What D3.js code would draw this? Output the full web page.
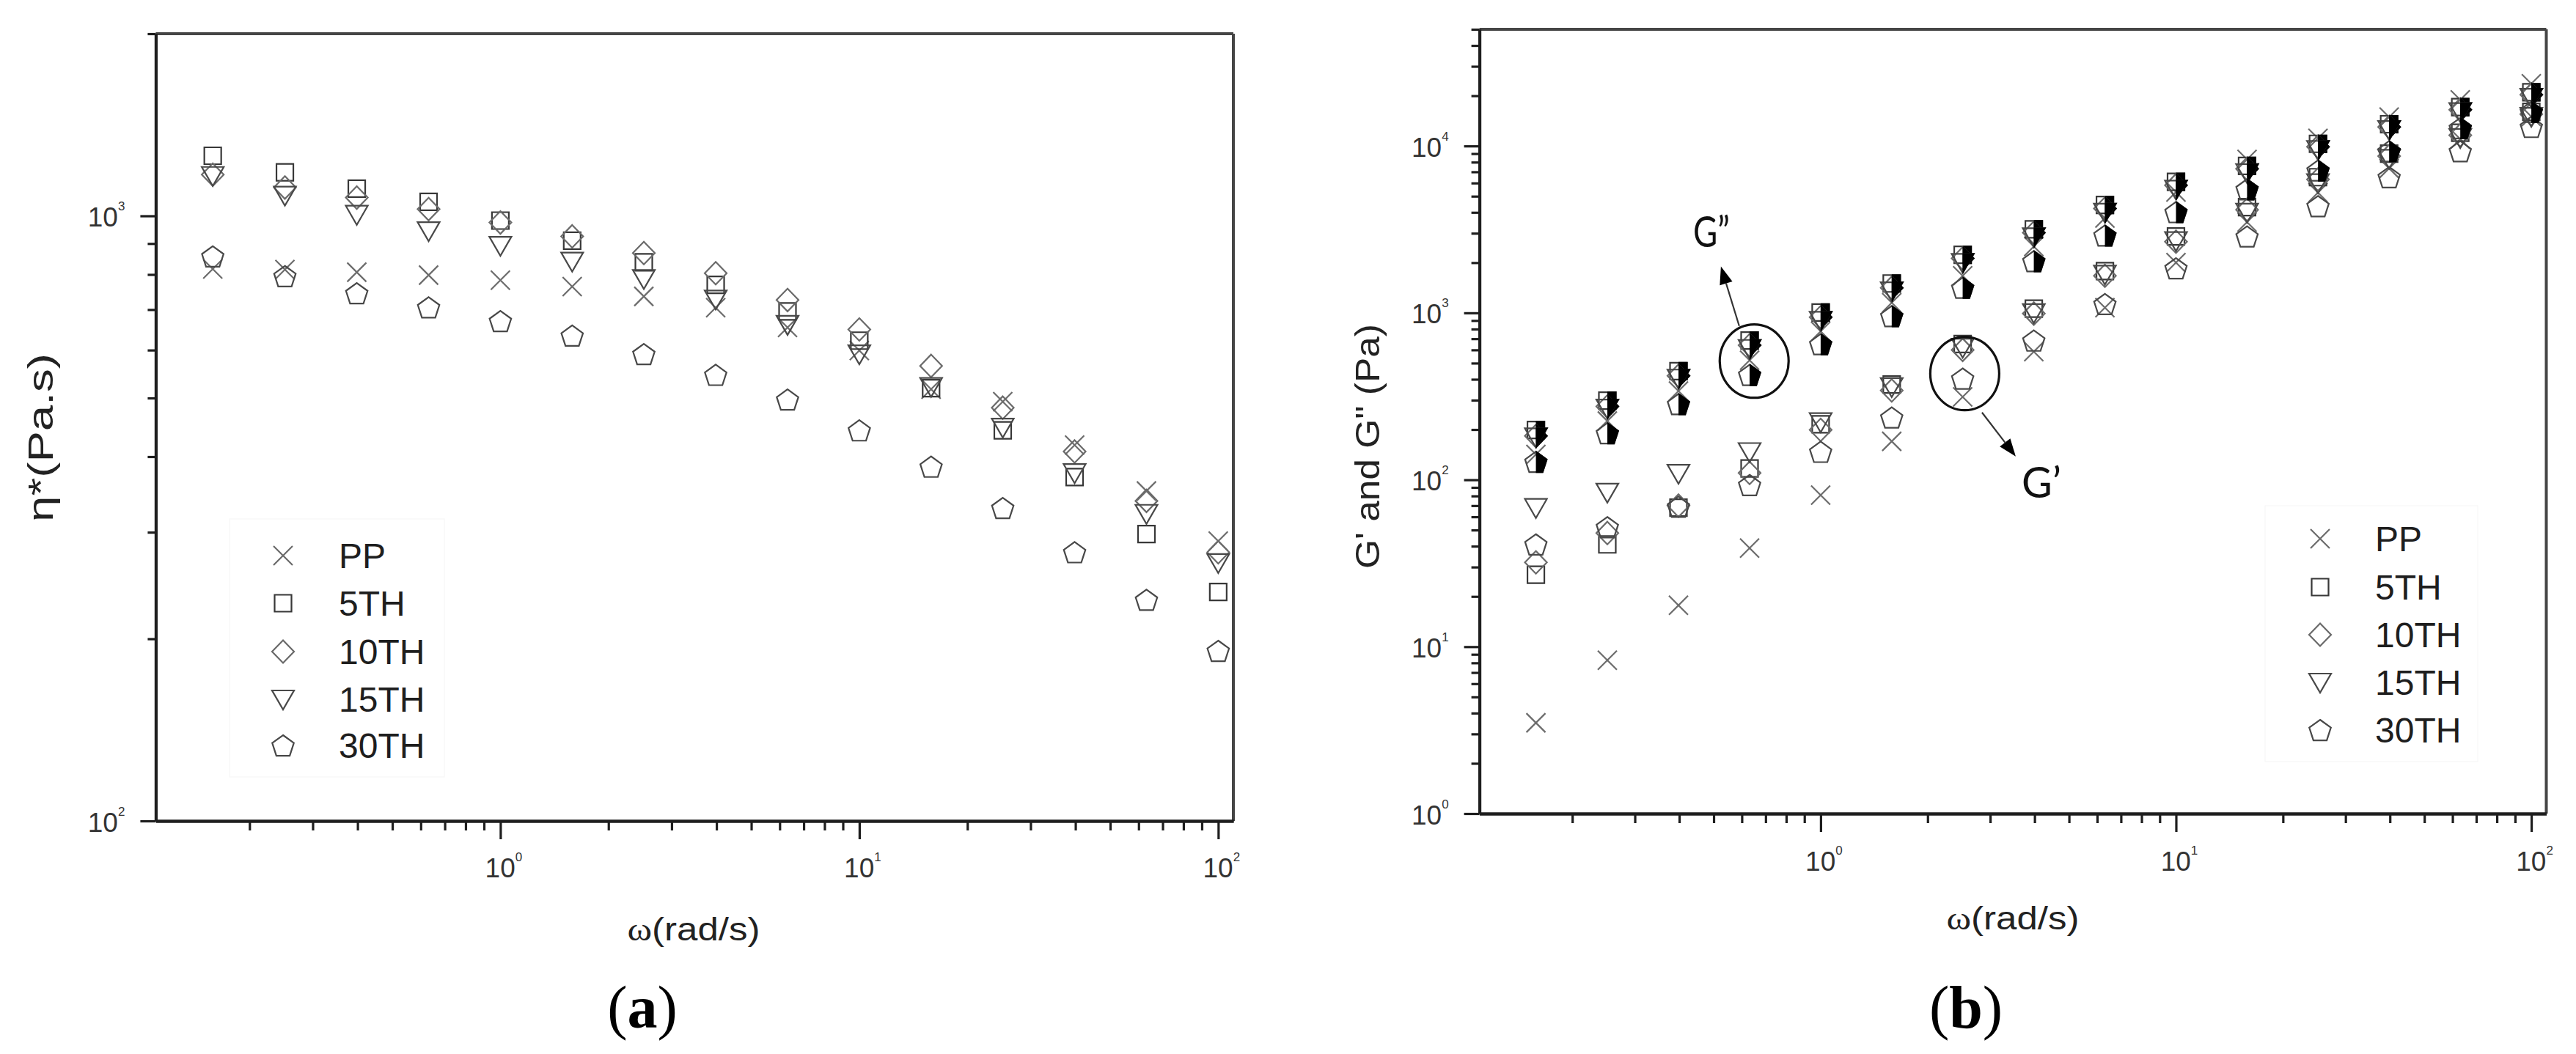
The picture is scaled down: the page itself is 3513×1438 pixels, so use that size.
<!DOCTYPE html>
<html><head><meta charset="utf-8">
<script src="https://cdn.jsdelivr.net/npm/d3@7"></script>
<style>body{margin:0;background:#fff}svg{display:block}</style>
</head><body>
<svg id="chart" width="3513" height="1438"></svg>
<script>
// ---------------- DATA ----------------
const omega = [0.158, 0.251, 0.398, 0.631, 1.0, 1.585, 2.51, 3.98, 6.31, 10.0, 15.85, 25.1, 39.8, 63.1, 100];
const seriesNames = ["PP", "5TH", "10TH", "15TH", "30TH"];

// panel (a): complex viscosity eta* (Pa.s)
const etaPP   = [817, 815, 807, 798, 783, 764, 736, 705, 654, 599, 517, 493, 418, 351, 290];
const eta5TH  = [1257, 1180, 1109, 1055, 982, 910, 838, 769, 695, 622, 519, 442, 370, 298, 239];
const eta10TH = [1170, 1114, 1072, 1026, 975, 925, 868, 804, 726, 649, 565, 482, 408, 338, 278];
const eta15TH = [1165, 1081, 1005, 944, 893, 841, 787, 728, 661, 591, 522, 447, 376, 322, 267];
const eta30TH = [857, 795, 745, 706, 670, 634, 591, 546, 497, 442, 385, 329, 278, 232, 191];

// panel (b): storage modulus G' (Pa)
const gpPP   = [3.5, 8.3, 17.7, 39, 81, 170, 314, 586, 1075, 2000, 3500, 5260, 7350, 11000, 15000];
const gp5TH  = [27, 41, 68, 117, 215, 372, 650, 1060, 1780, 2870, 4300, 6500, 9000, 12000, 16000];
const gp10TH = [32, 48, 70, 110, 199, 343, 600, 990, 1670, 2670, 4150, 6300, 8700, 11600, 15500];
const gp15TH = [68, 84, 109, 147, 222, 360, 620, 1000, 1700, 2700, 4000, 6000, 8400, 11200, 15000];
const gp30TH = [41, 52, 69, 93, 147, 236, 404, 682, 1130, 1850, 2870, 4360, 6500, 9300, 13000];

// panel (b): loss modulus G'' (Pa)
const gppPP   = [142, 225, 340, 520, 775, 1150, 1670, 2500, 3700, 5300, 8300, 11100, 14900, 18900, 23600];
const gpp5TH  = [199, 298, 448, 682, 1005, 1500, 2230, 3170, 4430, 6100, 7600, 10300, 13500, 17100, 21000];
const gpp10TH = [183, 275, 420, 640, 942, 1413, 2120, 3020, 4220, 5820, 7300, 9900, 13000, 16500, 20300];
const gpp15TH = [180, 268, 405, 610, 900, 1350, 2000, 2850, 4000, 5500, 6900, 9500, 12500, 16000, 19500];
const gpp30TH = [128, 190, 284, 425, 649, 955, 1413, 2040, 2909, 4012, 5500, 7130, 9300, 12800, 16000];

// axis ticks
const xMajorTicks = [1, 10, 100];
const xMinorTicks = [0.2,0.3,0.4,0.5,0.6,0.7,0.8,0.9, 2,3,4,5,6,7,8,9, 20,30,40,50,60,70,80,90];
const yMajorTicksA = [100, 1000];
const yMinorTicksA = [200,300,400,500,600,700,800,900,2000];
const yMajorTicksB = [1, 10, 100, 1000, 10000];
const yMinorTicksB = [2,3,4,5,6,7,8,9, 20,30,40,50,60,70,80,90, 200,300,400,500,600,700,800,900,
                      2000,3000,4000,5000,6000,7000,8000,9000, 20000,30000,40000,50000];

// annotations (data units)
const annoGpp = {label: "G\u201D", ellW: 0.650, ellV: 514, fromW: 0.590, fromV: 835, toW: 0.524, toV: 1896, textW: 0.4375, textV: 2490};
const annoGp  = {label: "G\u2019", ellW: 2.544, ellV: 433, fromW: 2.845, fromV: 253, toW: 3.54, toV: 138, textW: 3.678, textV: 78.3};

// ---------------- DRAWING ----------------
const svg = d3.select("#chart");
const defs = svg.append("defs");
defs.append("clipPath").attr("id", "rightHalf").attr("clipPathUnits", "userSpaceOnUse")
  .append("rect").attr("x", 0).attr("y", -30).attr("width", 30).attr("height", 60);

const strokeCols = ["#6c6c6c", "#383838", "#6a6a6a", "#484848", "#484848"];

function markerPath(k) {
  switch (k) {
    case 0: return "M-13,-13L13,13M-13,13L13,-13";
    case 1: return "M-11.5,-11.5H11.5V11.5H-11.5Z";
    case 2: return "M0,-15.5L15,0L0,15.5L-15,0Z";
    case 3: return "M-15,-12H15L0,14Z";
    default: {
      const r = 15.5, pts = [];
      for (let i = 0; i < 5; i++) {
        const a = (-90 + 72 * i) * Math.PI / 180;
        pts.push([r * Math.cos(a), r * Math.sin(a) + 1.5]);
      }
      return "M" + pts.map(p => p[0].toFixed(2) + "," + p[1].toFixed(2)).join("L") + "Z";
    }
  }
}

const xDomain = [0.1096, 110.2];
const panelA = {left: 212.4, right: 1682, top: 46, bottom: 1120, yDomain: [100, 2000]};
const panelB = {left: 2017.6, right: 3472.5, top: 40, bottom: 1110, yDomain: [1, 50000]};

function setupPanel(p, yMajor, yMinor, xLabelBase) {
  p.x = d3.scaleLog().domain(xDomain).range([p.left, p.right]);
  p.y = d3.scaleLog().domain(p.yDomain).range([p.bottom, p.top]);
  const g = svg.append("g");
  g.append("line").attr("x1", p.left).attr("x2", p.right).attr("y1", p.top).attr("y2", p.top)
    .attr("stroke", "#454545").attr("stroke-width", 4);
  g.append("line").attr("x1", p.right).attr("x2", p.right).attr("y1", p.top).attr("y2", p.bottom)
    .attr("stroke", "#454545").attr("stroke-width", 4);

  const gx = g.append("g").attr("transform", `translate(0,${p.bottom})`);
  gx.append("g").call(d3.axisBottom(p.x).tickValues(xMinorTicks).tickSize(13).tickSizeOuter(0).tickFormat(""));
  const gxm = gx.append("g").call(d3.axisBottom(p.x).tickValues(xMajorTicks).tickSize(25).tickSizeOuter(0).tickFormat(() => "10"));
  gxm.selectAll(".tick text").attr("y", xLabelBase).attr("dy", 0).attr("dx", 4)
    .append("tspan").attr("dy", -22).attr("font-size", 17).text(d => Math.round(Math.log10(d)));

  const gy = g.append("g").attr("transform", `translate(${p.left},0)`);
  gy.append("g").call(d3.axisLeft(p.y).tickValues(yMinor).tickSize(11).tickSizeOuter(0).tickFormat(""));
  const gym = gy.append("g").call(d3.axisLeft(p.y).tickValues(yMajor).tickSize(21).tickSizeOuter(0).tickFormat(() => "10"));
  gym.selectAll(".tick text").attr("x", -42).attr("dy", 0).attr("y", 14)
    .append("tspan").attr("dy", -22).attr("font-size", 17).text(d => Math.round(Math.log10(d)));

  g.selectAll(".domain").attr("stroke", "#1e1e1e").attr("stroke-width", 4);
  g.selectAll(".tick line").attr("stroke", "#1e1e1e").attr("stroke-width", 3.2);
  g.selectAll(".tick text").attr("font-family", "'Liberation Sans', Arial, sans-serif")
    .attr("font-size", 37).attr("fill", "#333");
  return g;
}

setupPanel(panelA, yMajorTicksA, yMinorTicksA, 77);
setupPanel(panelB, yMajorTicksB, yMinorTicksB, 78);

function drawSeries(p, values, k, halfFilled) {
  const pts = omega.map((w, j) => ({w, v: values[j]}));
  const grp = svg.append("g");
  const sel = grp.selectAll("g.pt").data(pts).join("g").attr("class", "pt")
    .attr("transform", d => `translate(${p.x(d.w)},${p.y(d.v)})`);
  sel.append("path").attr("d", markerPath(k)).attr("fill", "none")
    .attr("stroke", strokeCols[k]).attr("stroke-width", 2.2);
  if (halfFilled && k !== 0) {
    sel.append("path").attr("d", markerPath(k)).attr("fill", "#000").attr("stroke", "#000")
      .attr("stroke-width", 2.2).attr("clip-path", "url(#rightHalf)");
  }
}

[etaPP, eta5TH, eta10TH, eta15TH, eta30TH].forEach((arr, k) => drawSeries(panelA, arr, k, false));
[gpPP, gp5TH, gp10TH, gp15TH, gp30TH].forEach((arr, k) => drawSeries(panelB, arr, k, false));
[gppPP, gpp5TH, gpp10TH, gpp15TH, gpp30TH].forEach((arr, k) => drawSeries(panelB, arr, k, true));

function drawLegend(box, symX, txtX, rowY) {
  const g = svg.append("g");
  g.append("rect").attr("x", box[0]).attr("y", box[1]).attr("width", box[2]).attr("height", box[3])
    .attr("fill", "none").attr("stroke", "#f7f7f7").attr("stroke-width", 1.2);
  seriesNames.forEach((name, k) => {
    g.append("path").attr("transform", `translate(${symX},${rowY[k]})`).attr("d", markerPath(k))
      .attr("fill", "none").attr("stroke", strokeCols[k]).attr("stroke-width", 2.2);
    g.append("text").attr("x", txtX).attr("y", rowY[k] + 17).text(name)
      .attr("font-family", "'Liberation Sans', Arial, sans-serif").attr("font-size", 48).attr("fill", "#1e1e1e");
  });
}
drawLegend([313, 708, 293, 352], 386, 462, [758, 823, 889, 954, 1017]);
drawLegend([3089, 690, 290, 349], 3164, 3239, [735, 801, 866, 931, 996]);

const sans = "'Liberation Sans', Arial, sans-serif";
function xTitle(cx, base) {
  const t = svg.append("text").attr("x", cx).attr("y", base).attr("text-anchor", "middle")
    .attr("font-family", sans).attr("font-size", 44).attr("fill", "#222")
    .attr("textLength", 181).attr("lengthAdjust", "spacingAndGlyphs");
  t.append("tspan").attr("font-family", "'Liberation Serif', serif").text("\u03C9");
  t.append("tspan").text("(rad/s)");
}
xTitle(946, 1283);
xTitle(2745, 1268);

svg.append("text").attr("transform", "translate(72,597) rotate(-90)").attr("text-anchor", "middle")
  .attr("font-family", sans).attr("font-size", 48).attr("fill", "#222")
  .attr("textLength", 230).attr("lengthAdjust", "spacingAndGlyphs").text("\u03B7*(Pa.s)");
svg.append("text").attr("transform", "translate(1881,609) rotate(-90)").attr("text-anchor", "middle")
  .attr("font-family", sans).attr("font-size", 46).attr("fill", "#222")
  .attr("textLength", 334).attr("lengthAdjust", "spacingAndGlyphs").text("G' and G\" (Pa)");

function panelLetter(cx, letter) {
  const t = svg.append("text").attr("x", cx).attr("y", 1402).attr("text-anchor", "middle")
    .attr("font-family", "'Liberation Serif', 'Times New Roman', serif").attr("font-size", 82).attr("fill", "#000");
  t.append("tspan").text("(");
  t.append("tspan").attr("font-weight", "bold").text(letter);
  t.append("tspan").text(")");
}
panelLetter(876, "a");
panelLetter(2681, "b");

function annotate(a, textLen) {
  const p = panelB;
  const g = svg.append("g");
  g.append("ellipse").attr("cx", p.x(a.ellW)).attr("cy", p.y(a.ellV)).attr("rx", 47).attr("ry", 50)
    .attr("fill", "none").attr("stroke", "#111").attr("stroke-width", 3.2);
  const x1 = p.x(a.fromW), y1 = p.y(a.fromV), x2 = p.x(a.toW), y2 = p.y(a.toV);
  const ang = Math.atan2(y2 - y1, x2 - x1);
  const L = 24, Wd = 9;
  const bx = x2 - L * Math.cos(ang), by = y2 - L * Math.sin(ang);
  g.append("line").attr("x1", x1).attr("y1", y1).attr("x2", bx).attr("y2", by)
    .attr("stroke", "#333").attr("stroke-width", 2.2);
  g.append("path").attr("d", `M${x2},${y2}L${bx - Wd * Math.sin(ang)},${by + Wd * Math.cos(ang)}L${bx + Wd * Math.sin(ang)},${by - Wd * Math.cos(ang)}Z`)
    .attr("fill", "#000");
  g.append("text").attr("x", p.x(a.textW)).attr("y", p.y(a.textV))
    .attr("font-family", "Lato, 'Open Sans', sans-serif").attr("font-size", 58).attr("fill", "#111")
    .attr("textLength", textLen).attr("lengthAdjust", "spacingAndGlyphs").text(a.label);
}
annotate(annoGpp, 50);
annotate(annoGp, 54);
</script>
</body></html>
